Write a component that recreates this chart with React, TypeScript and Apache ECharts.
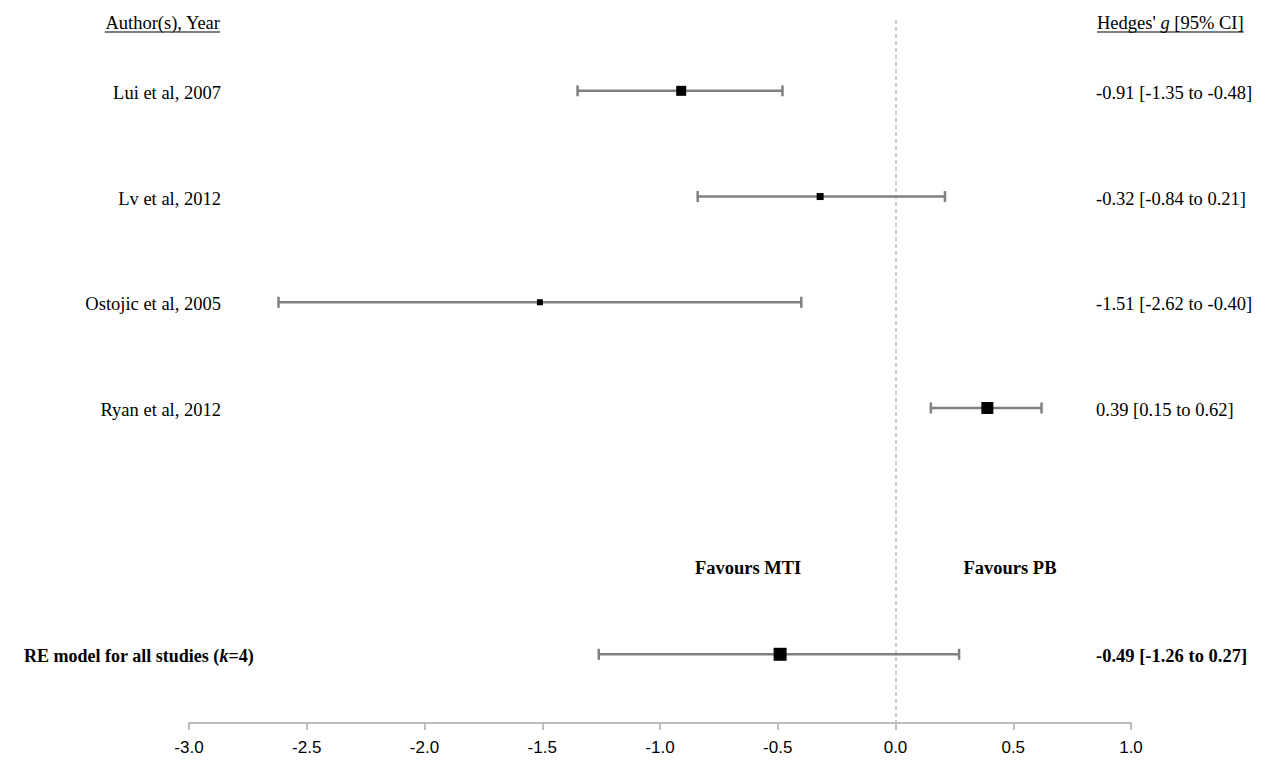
import React, { useEffect, useRef } from "react";
import * as echarts from "echarts";

// Study-level effect sizes (Hedges' g with 95% CI)
const studies = ["Lui et al, 2007", "Lv et al, 2012", "Ostojic et al, 2005", "Ryan et al, 2012"];
const estimates = [-0.91, -0.32, -1.51, 0.39];
const lowerCI = [-1.35, -0.84, -2.62, 0.15];
const upperCI = [-0.48, 0.21, -0.4, 0.62];
// marker size reflects study weight
const markerSizes = [10, 7, 6, 12];

// Random-effects pooled estimate
const pooledLabel = "RE model for all studies";
const pooledK = 4;
const pooledEstimate = -0.49;
const pooledLower = -1.26;
const pooledUpper = 0.27;
const pooledSize = 13;

const xTickMin = -3.0;
const xTickMax = 1.0;
const xTickStep = 0.5;

// Vertical layout (rows counted from top)
const Y_MIN = 0.33;
const Y_MAX = 6.98;
const POOLED_ROW = 6.33;
const FAVOURS_ROW = 5.51;
const favoursLeft = { text: "Favours MTI", x: -0.626 };
const favoursRight = { text: "Favours PB", x: 0.486 };

const GRID_LEFT = 189;
const GRID_RIGHT = 139;
const GRID_TOP = 20;
const GRID_BOTTOM = 37;
const W = 1270;
const H = 760;

const SERIF = '"Liberation Serif", "Times New Roman", serif';
const SANS = '"Liberation Sans", Arial, sans-serif';
const FS = 18.5;
const FS_POOLED = 18;
const BAR_COLOR = "#808080";

const fmt = (v: number) => v.toFixed(2);

function measure(parts: { t: string; font: string }[]) {
  const c = document.createElement("canvas");
  const ctx = c.getContext("2d")!;
  let w = 0;
  for (const p of parts) {
    ctx.font = p.font;
    w += ctx.measureText(p.t).width;
  }
  return w;
}

function xPx(v: number) {
  const w = W - GRID_LEFT - GRID_RIGHT;
  return GRID_LEFT + ((v - xTickMin) / (xTickMax - xTickMin)) * w;
}
function yPx(row: number) {
  const h = H - GRID_TOP - GRID_BOTTOM;
  return GRID_TOP + ((row - Y_MIN) / (Y_MAX - Y_MIN)) * h;
}

export default function App() {
  const ref = useRef<HTMLDivElement>(null);

  useEffect(() => {
    if (!ref.current) return;
    const chart = echarts.init(ref.current, null, { renderer: "svg" });

    const rows = studies.map((name, i) => ({
      value: [estimates[i], lowerCI[i], upperCI[i], i + 1, markerSizes[i], 0],
      name,
    }));
    rows.push({
      value: [pooledEstimate, pooledLower, pooledUpper, POOLED_ROW, pooledSize, 1],
      name: pooledLabel,
    });

    const renderItem = (params: any, api: any) => {
      const est = api.value(0);
      const lo = api.value(1);
      const hi = api.value(2);
      const row = api.value(3);
      const size = api.value(4);
      const isPooled = api.value(5) === 1;
      const pLo = api.coord([lo, row]);
      const pHi = api.coord([hi, row]);
      const pEst = api.coord([est, row]);
      const y = pEst[1];
      const cap = 5.5;
      const lineStyle = { stroke: BAR_COLOR, lineWidth: 2.5 };
      const idx = params.dataIndex;
      const rightText = `${fmt(est)} [${fmt(lo)} to ${fmt(hi)}]`;

      const children: any[] = [
        { type: "line", shape: { x1: pLo[0], y1: y, x2: pHi[0], y2: y }, style: lineStyle },
        { type: "line", shape: { x1: pLo[0], y1: y - cap, x2: pLo[0], y2: y + cap }, style: lineStyle },
        { type: "line", shape: { x1: pHi[0], y1: y - cap, x2: pHi[0], y2: y + cap }, style: lineStyle },
        {
          type: "rect",
          shape: { x: pEst[0] - size / 2, y: y - size / 2, width: size, height: size },
          style: { fill: "#000" },
        },
      ];

      if (isPooled) {
        children.push({
          type: "text",
          x: 24,
          y: y + 2,
          style: {
            text: `{b|${pooledLabel} (}{bi|k}{b|=${pooledK})}`,
            align: "left",
            verticalAlign: "middle",
            rich: {
              b: { fontFamily: SERIF, fontSize: FS_POOLED, fontWeight: "bold", fill: "#000" },
              bi: { fontFamily: SERIF, fontSize: FS_POOLED, fontWeight: "bold", fontStyle: "italic", fill: "#000" },
            },
          },
        });
        children.push({
          type: "text",
          x: 1096,
          y: y + 2,
          style: {
            text: rightText,
            align: "left",
            verticalAlign: "middle",
            fontFamily: SERIF,
            fontSize: FS,
            fontWeight: "bold",
            fill: "#000",
          },
        });
      } else {
        children.push({
          type: "text",
          x: 221,
          y: y + 2,
          style: {
            text: studies[idx],
            align: "right",
            verticalAlign: "middle",
            fontFamily: SERIF,
            fontSize: FS,
            fill: "#000",
          },
        });
        children.push({
          type: "text",
          x: 1096,
          y: y + 2,
          style: {
            text: rightText,
            align: "left",
            verticalAlign: "middle",
            fontFamily: SERIF,
            fontSize: FS,
            fill: "#000",
          },
        });
      }
      return { type: "group", children };
    };

    // header underline widths
    const fontN = `${FS}px ${SERIF}`;
    const fontI = `italic ${FS}px ${SERIF}`;
    const authorW = measure([{ t: "Author(s), Year", font: fontN }]);
    const hedgesW = measure([
      { t: "Hedges' ", font: fontN },
      { t: "g", font: fontI },
      { t: " [95% CI]", font: fontN },
    ]);
    const headY = 23;
    const ulY = 32;

    chart.setOption({
      animation: false,
      backgroundColor: "#fff",
      grid: { left: GRID_LEFT, right: GRID_RIGHT, top: GRID_TOP, bottom: GRID_BOTTOM, containLabel: false },
      xAxis: {
        type: "value",
        min: xTickMin,
        max: xTickMax,
        interval: xTickStep,
        splitLine: { show: false },
        axisLine: { show: true, lineStyle: { color: "#bdbdbd", width: 2 } },
        axisTick: { show: true, length: 7, lineStyle: { color: "#bdbdbd", width: 2 } },
        axisLabel: {
          color: "#000",
          fontFamily: SANS,
          fontSize: 17,
          margin: 16,
          formatter: (v: number) => v.toFixed(1),
        },
      },
      yAxis: {
        type: "value",
        inverse: true,
        min: Y_MIN,
        max: Y_MAX,
        show: false,
        splitLine: { show: false },
      },
      series: [
        {
          type: "custom",
          renderItem,
          data: rows,
          encode: { x: [0, 1, 2], y: 3 },
          z: 3,
          markLine: {
            silent: true,
            symbol: "none",
            label: { show: false },
            lineStyle: { type: [4, 3], color: "#bdbdbd", width: 1.5 },
            data: [{ xAxis: 0 }],
            z: 1,
          },
        },
      ],
      graphic: [
        {
          type: "text",
          x: 220,
          y: headY,
          style: {
            text: "Author(s), Year",
            align: "right",
            verticalAlign: "middle",
            fontFamily: SERIF,
            fontSize: FS,
            fill: "#000",
          },
        },
        {
          type: "line",
          shape: { x1: 220 - authorW, y1: ulY, x2: 220, y2: ulY },
          style: { stroke: "#000", lineWidth: 1.2 },
        },
        {
          type: "text",
          x: 1097,
          y: headY,
          style: {
            text: "{n|Hedges' }{i|g}{n| [95% CI]}",
            align: "left",
            verticalAlign: "middle",
            rich: {
              n: { fontFamily: SERIF, fontSize: FS, fill: "#000" },
              i: { fontFamily: SERIF, fontSize: FS, fontStyle: "italic", fill: "#000" },
            },
          },
        },
        {
          type: "line",
          shape: { x1: 1097, y1: ulY, x2: 1097 + hedgesW, y2: ulY },
          style: { stroke: "#000", lineWidth: 1.2 },
        },
        {
          type: "text",
          x: xPx(favoursLeft.x),
          y: yPx(FAVOURS_ROW),
          style: {
            text: favoursLeft.text,
            align: "center",
            verticalAlign: "middle",
            fontFamily: SERIF,
            fontSize: FS,
            fontWeight: "bold",
            fill: "#000",
          },
        },
        {
          type: "text",
          x: xPx(favoursRight.x),
          y: yPx(FAVOURS_ROW),
          style: {
            text: favoursRight.text,
            align: "center",
            verticalAlign: "middle",
            fontFamily: SERIF,
            fontSize: FS,
            fontWeight: "bold",
            fill: "#000",
          },
        },
      ],
    });

    return () => chart.dispose();
  }, []);

  return (
    <div
      ref={ref}
      style={{ position: "fixed", left: 0, top: 0, width: W, height: H, background: "#fff" }}
    />
  );
}
